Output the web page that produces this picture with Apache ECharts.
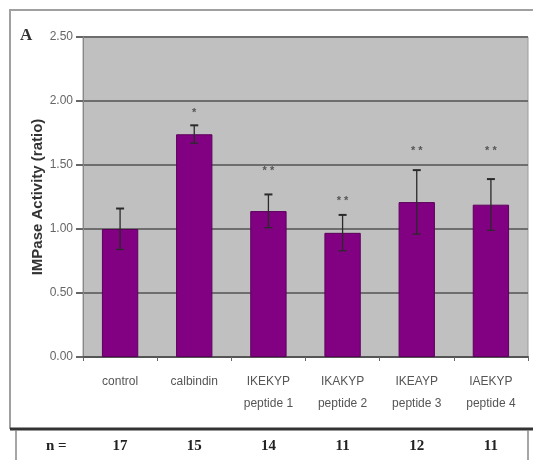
<!DOCTYPE html>
<html>
<head>
<meta charset="utf-8">
<script src="https://cdn.jsdelivr.net/npm/echarts@6/dist/echarts.min.js"></script>
<style>
  html, body { margin: 0; padding: 0; background: #fff; }
  #chart { width: 533px; height: 460px; }
</style>
</head>
<body>
<div id="chart"></div>
<script>
// IMPase activity relative to control
const categories = ['control', 'calbindin', 'IKEKYP\npeptide 1', 'IKAKYP\npeptide 2', 'IKEAYP\npeptide 3', 'IAEKYP\npeptide 4'];
const activity = [1.00, 1.74, 1.14, 0.97, 1.21, 1.19];
const errors = [0.16, 0.07, 0.13, 0.14, 0.25, 0.20];
const significance = ['', '*', '**', '**', '**', '**'];
const markY = [0, 1.91, 1.45, 1.22, 1.61, 1.61];
const sampleSizes = [17, 15, 14, 11, 12, 11];
const yTicks = [0, 0.5, 1.0, 1.5, 2.0, 2.5];

const chart = echarts.init(document.getElementById('chart'), null, { renderer: 'canvas' });

const sans = '"Liberation Sans", Arial, sans-serif';
const serif = '"Liberation Serif", "DejaVu Serif", serif';

const option = {
  animation: false,
  backgroundColor: '#ffffff',
  grid: {
    left: 83, right: 5, top: 37, bottom: 103,
    show: true, backgroundColor: '#c0c0c0', borderColor: '#9a9a9a', borderWidth: 1
  },
  xAxis: [
    {
      type: 'category',
      data: categories,
      axisLine: { lineStyle: { color: '#555', width: 2 } },
      axisTick: { show: true, alignWithLabel: false, length: 4, lineStyle: { color: '#666' } },
      axisLabel: {
        interval: 0, color: '#555', fontFamily: sans, fontSize: 12, lineHeight: 22, margin: 14
      }
    },
    {
      type: 'category',
      data: categories,
      position: 'bottom',
      offset: 82,
      axisLine: { show: false },
      axisTick: { show: false },
      axisLabel: {
        interval: 0, color: '#222', fontFamily: serif,
        fontWeight: 'bold', fontSize: 15, margin: 0,
        formatter: (v, i) => String(sampleSizes[i])
      }
    }
  ],
  yAxis: {
    type: 'value',
    min: yTicks[0], max: yTicks[yTicks.length - 1], interval: 0.5,
    name: 'IMPase Activity (ratio)',
    nameLocation: 'middle',
    nameGap: 38,
    nameMoveOverlap: false,
    nameTextStyle: { fontFamily: sans, fontWeight: 'bold', fontSize: 15, color: '#333' },
    axisLine: { show: true, lineStyle: { color: '#888' } },
    axisTick: { show: true, length: 7, lineStyle: { color: '#666', width: 2 } },
    axisLabel: {
      color: '#666', fontFamily: sans, fontSize: 12, margin: 10,
      formatter: v => v.toFixed(2)
    },
    splitLine: { show: true, lineStyle: { color: '#6e6e6e', width: 2 } }
  },
  series: [
    {
      type: 'bar',
      data: activity,
      barWidth: '49%',
      itemStyle: { color: '#820082', borderColor: '#5c005c', borderWidth: 1 },
      z: 2
    },
    {
      type: 'custom',
      data: activity.map((v, i) => [i, v - errors[i], v + errors[i]]),
      z: 3,
      renderItem: (params, api) => {
        const x = api.value(0);
        const lo = api.coord([x, api.value(1)]);
        const hi = api.coord([x, api.value(2)]);
        const cap = 4;
        const style = { stroke: '#2a2a2a', lineWidth: 1.3 };
        return {
          type: 'group',
          children: [
            { type: 'line', shape: { x1: hi[0], y1: hi[1], x2: lo[0], y2: lo[1] }, style },
            { type: 'line', shape: { x1: hi[0] - cap, y1: hi[1], x2: hi[0] + cap, y2: hi[1] }, style: { stroke: '#2a2a2a', lineWidth: 2 } },
            { type: 'line', shape: { x1: lo[0] - cap, y1: lo[1], x2: lo[0] + cap, y2: lo[1] }, style }
          ]
        };
      }
    },
    {
      type: 'custom',
      data: markY.map((v, i) => [i, v]),
      z: 4,
      renderItem: (params, api) => {
        const i = api.value(0);
        const p = api.coord([i, api.value(1)]);
        return {
          type: 'text',
          x: p[0], y: p[1],
          style: {
            text: significance[i].split('').join(' '), fill: '#555', font: 'bold 11px "Liberation Sans", Arial, sans-serif',
            align: 'center', verticalAlign: 'middle'
          }
        };
      }
    }
  ],
  graphic: [
    // outer panel frame
    { type: 'polyline', shape: { points: [[10, 429], [10, 10], [533, 10]] }, style: { stroke: '#a0a0a0', lineWidth: 2, fill: null }, z: 10 },
    { type: 'text', left: 20, top: 27, style: { text: 'A', font: 'bold 17px "Liberation Serif", serif', fill: '#333' }, z: 10 },
    // sample size table
    { type: 'line', shape: { x1: 10, y1: 429, x2: 533, y2: 429 }, style: { stroke: '#333', lineWidth: 3 }, z: 10 },
    { type: 'line', shape: { x1: 16, y1: 430, x2: 16, y2: 460 }, style: { stroke: '#888', lineWidth: 1.5 }, z: 10 },
    { type: 'line', shape: { x1: 528, y1: 430, x2: 528, y2: 460 }, style: { stroke: '#888', lineWidth: 1.5 }, z: 10 },
    { type: 'text', left: 46, top: 439, style: { text: 'n =', font: 'bold 15px "Liberation Serif", serif', fill: '#222' }, z: 10 }
  ]
};

chart.setOption(option);
</script>
</body>
</html>
